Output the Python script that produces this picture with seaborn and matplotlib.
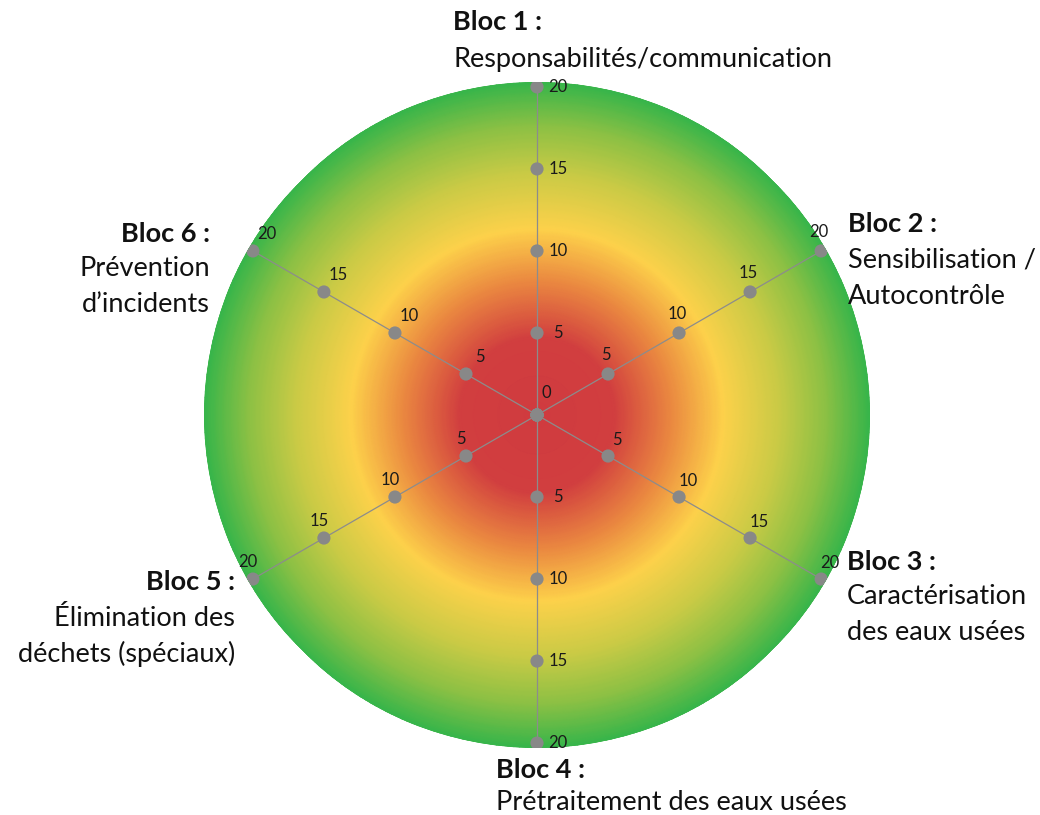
import numpy as np
import matplotlib
matplotlib.use("Agg")
import matplotlib.pyplot as plt
from matplotlib.colors import LinearSegmentedColormap
import seaborn as sns
import pandas as pd

# ---- data ----
bloc_titles = ["Bloc 1 :", "Bloc 2 :", "Bloc 3 :", "Bloc 4 :", "Bloc 5 :", "Bloc 6 :"]
bloc_subtitles = [
    ["Responsabilités/communication"],
    ["Sensibilisation /", "Autocontrôle"],
    ["Caractérisation", "des eaux usées"],
    ["Prétraitement des eaux usées"],
    ["Élimination des", "déchets (spéciaux)"],
    ["Prévention", "d’incidents"],
]
tick_values = [0, 5, 10, 15, 20]
r_max = 20.3

sns.set_theme(style="white")
plt.rcParams['font.family'] = ['Lato', 'DejaVu Sans']

fig = plt.figure(figsize=(10.4, 8.15), dpi=100)
cx, cy, rad = 537, 415, 333
W, H = 1040, 815
ax = fig.add_axes([(cx - rad) / W, 1 - (cy + rad) / H, 2 * rad / W, 2 * rad / H],
                  projection='polar')
ax.set_theta_zero_location('N')
ax.set_theta_direction(-1)

# radial gradient background
cmap = LinearSegmentedColormap.from_list("rg", [
    (0.0, "#D03B3F"), (0.23, "#D13E3F"), (0.40, "#EA8740"), (0.56, "#FDD14A"),
    (0.73, "#C9CA45"), (0.87, "#8CC044"), (1.0, "#38B54A")])
th = np.linspace(0, 2 * np.pi, 361)
rr = np.linspace(0, r_max, 300)
TH, RR = np.meshgrid(th, rr)
ax.pcolormesh(TH, RR, RR / r_max, cmap=cmap, shading='gouraud', vmin=0, vmax=1,
              rasterized=True)

n = len(bloc_titles)
angles = np.arange(n) * 2 * np.pi / n

# spokes
for a in angles:
    ax.plot([a, a], [0, max(tick_values)], color="#8C8C8C", lw=0.9, zorder=2)

rows = [(a, v) for a in angles for v in tick_values]
df = pd.DataFrame(rows, columns=["theta", "r"])
sns.scatterplot(data=df, x="theta", y="r", ax=ax, color="#888888", s=90,
                edgecolor="none", zorder=3, legend=False)

# tick labels offsets per axis (pixels)
offsets = [(21, 0), (-2, 19), (9, 16), (21, 0), (-5, 17), (14, 17)]
lab_kw = dict(fontsize=12, color="#1a1a1a", ha='center', va='center',
              textcoords='offset pixels', zorder=4)
ax.annotate(str(tick_values[0]), (0, 0), xytext=(9, 22), **lab_kw)
for a, (dx, dy) in zip(angles, offsets):
    for v in tick_values[1:]:
        ax.annotate(str(v), (a, v), xytext=(dx, dy), **lab_kw)

ax.set_ylim(0, r_max)
ax.set_xticks([])
ax.set_yticks([])
ax.set_xlabel("")
ax.set_ylabel("")
ax.grid(False)
ax.spines['polar'].set_visible(False)
ax.set_facecolor("none")

# block labels (figure pixel coords: x, y of title line, alignment, line step)
label_pos = [(453, 22, 'left', 38), (848, 224, 'left', 36), (847, 562, 'left', 35),
             (496, 770, 'left', 33), (235, 582, 'right', 36), (210, 234, 'right', 35)]
fs = 19.5
for (x, y, ha, step), t, lines in zip(label_pos, bloc_titles, bloc_subtitles):
    fig.text(x / W, 1 - y / H, t, fontsize=fs, fontweight='bold', ha=ha,
             va='center', color="#111111")
    for k, s in enumerate(lines):
        fig.text(x / W, 1 - (y + step * (k + 1)) / H, s, fontsize=fs, ha=ha,
                 va='center', color="#111111")

fig.savefig("out.png", dpi=100, facecolor="white")
